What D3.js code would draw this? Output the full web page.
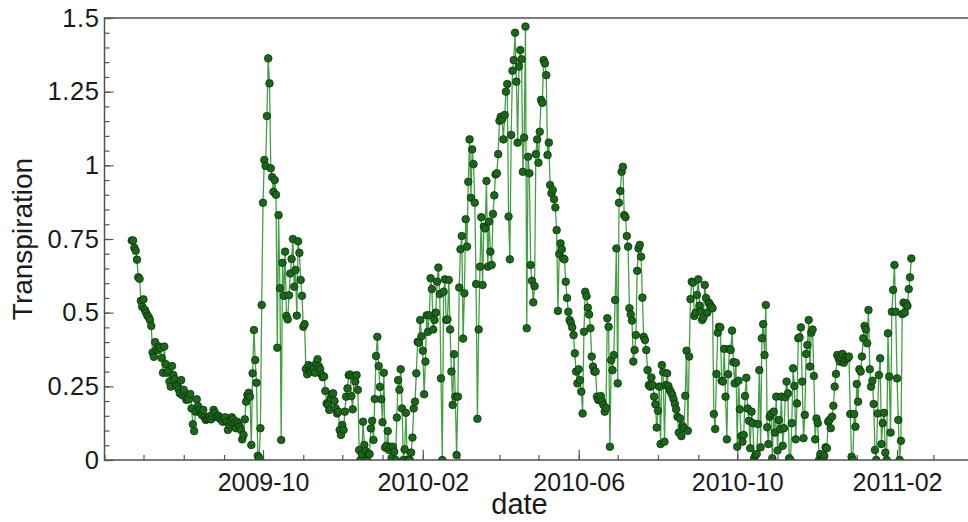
<!DOCTYPE html>
<html>
<head>
<meta charset="utf-8">
<script src="https://cdnjs.cloudflare.com/ajax/libs/d3/7.8.5/d3.min.js"></script>
<style>
body { margin: 0; background: #fff; }
svg { display: block; }
text { font-family: "Liberation Sans", Arial, sans-serif; fill: #1a1a1a; }
</style>
</head>
<body>
<svg id="chart"></svg>
<script>
// daily transpiration series, first value on startDate
var startDate = "2009-06-22";
var transpiration = [
	.745,.745,.72,.71,.68,.62,.615,.54,.52,.545,.51,.50,.49,.485,.475,.455,.365,.35,.40,.375,
	.373,.385,.38,.346,.296,.385,.326,.296,.303,.266,.249,.319,.288,.274,.254,.25,.24,.226,.271,.22,
	.238,.215,.204,.21,.206,.224,.175,.121,.098,.164,.206,.183,.17,.16,.153,.17,.145,.136,.14,.141,
	.149,.138,.15,.17,.16,.147,.145,.149,.141,.136,.13,.14,.145,.13,.102,.119,.13,.145,.138,.125,
	.108,.13,.122,.113,.102,.07,.085,.138,.198,.22,.228,.215,.051,.294,.441,.339,.262,.014,.007,.108,
	.526,.873,1.018,.998,1.167,1.363,1.278,.99,.96,.91,.95,.90,.381,.831,.583,.068,.669,.557,.707,.489,
	.477,.559,.633,.682,.75,.588,.645,.49,.742,.703,.611,.557,.452,.461,.309,.291,.322,.305,.30,.317,
	.31,.296,.328,.342,.318,.308,.29,.281,.283,.234,.192,.187,.17,.209,.224,.226,.2,.175,.158,.164,
	.102,.085,.119,.102,.164,.215,.243,.288,.29,.217,.172,.283,.266,.288,.238,.034,0,.02,.13,.051,
	.03,0,.02,.02,.107,.133,.068,.207,.353,.418,.319,.248,.206,.128,.296,.042,.048,.098,.034,.045,
	.007,.045,.028,0,.144,.271,.238,.308,.175,0,.036,.16,0,0,0,.025,.076,.175,.198,.294,
	.401,.398,.475,.42,.371,.223,.334,.491,.435,.491,.617,.58,.443,.475,.50,.605,.653,.563,.277,0,
	.571,.613,.475,.477,.611,.443,.3,.187,.359,.215,.017,.215,.585,.715,.76,.412,.566,.817,.724,.944,
	1.088,.89,1.054,1.004,.873,.597,.14,.443,.656,.824,.594,.792,.786,.947,.656,.809,.707,.662,.835,.898,
	.969,.973,1.038,1.151,1.165,1.156,1.088,1.171,1.25,1.276,.826,.681,1.103,1.321,1.357,1.45,1.284,1.077,1.335,1.391,
	1.36,.978,1.094,1.471,.447,1.029,.973,.662,.608,.535,.59,1.038,1.088,1.009,1.114,1.222,1.212,1.357,1.346,1.306,
	1.035,1.077,.933,.905,.916,.885,.857,.78,.506,.699,.735,.715,.684,.681,.605,.55,.503,.475,.466,.45,
	.424,.362,.30,.26,.308,.271,.232,.158,.435,.571,.556,.517,.494,.447,.351,.317,.30,.30,.215,.204,
	.206,.217,.198,.187,.164,.177,.481,.452,.045,.339,.305,.356,.543,.718,.26,.873,.913,.978,.995,.831,
	.824,.76,.724,.515,.494,.473,.334,.373,.424,.642,.718,.73,.69,.551,.418,.407,.373,.305,.254,.249,
	.28,.254,.215,.189,.11,.167,.249,.054,.322,.298,.062,.254,.294,.251,.238,.23,.221,.206,.19,.172,
	.147,.093,.141,.081,.115,.108,.218,.371,.099,.351,.546,.605,.602,.489,.50,.56,.613,.524,.503,.475,
	.484,.594,.55,.50,.534,.529,.52,.515,.156,.105,.292,.432,.452,.45,.269,.266,.377,.215,.07,.291,
	.377,.373,.439,.332,.26,.33,.045,.269,.172,.081,.062,.085,.217,.279,.175,.133,.04,.164,.125,.006,
	.017,.02,.122,.305,.043,.413,.461,.356,.526,.111,.054,.147,.156,.006,.164,.093,.215,.032,.136,.104,
	.215,.048,.108,.213,.266,.226,.006,0,.125,.311,.251,.07,.192,.413,.416,.45,.266,.074,.153,.36,
	.39,.475,.317,.432,.443,.285,.07,.141,.125,0,.02,0,.002,.014,.043,.04,.13,.136,.108,.147,
	.184,.249,.292,.356,.345,.334,.348,.36,.33,.342,.35,.345,.351,.156,.011,0,.156,.113,.258,.198,.308,
	.30,.351,.413,.455,.443,.396,.509,.308,.249,.269,.19,.034,0,.158,.288,.345,.054,.125,.16,.025,
	0,.43,.283,.093,.503,.577,.662,.503,.277,.136,0,.065,.495,.534,.50,.532,.523,.58,.62,.684
];

var xDomain = ["2009-06-01", "2011-04-01"];
var xMajorTicks = ["2009-10-01", "2010-02-01", "2010-06-01", "2010-10-01", "2011-02-01"];
var xTickLabels = ["2009-10", "2010-02", "2010-06", "2010-10", "2011-02"];
var yDomain = [0, 1.5];
var yMajorTicks = [0, 0.25, 0.5, 0.75, 1, 1.25, 1.5];
var yTickLabels = ["0", "0.25", "0.5", "0.75", "1", "1.25", "1.5"];
var xTitle = "date";
var yTitle = "Transpiration";

var width = 968;
var height = 522;
var margin = { top: 18, left: 104.5, bottom: 62 };
var chart_height = height - margin.top - margin.bottom;
var parseDate = d3.utcParse("%Y-%m-%d");

var xScale = d3.scaleUtc()
	.domain(xDomain.map(parseDate))
	.range([0, 869.2]);
var yScale = d3.scaleLinear().domain(yDomain).range([chart_height, 0]);

var t0 = parseDate(startDate);
var data = transpiration.map(function(v, i) {
	return { date: d3.utcDay.offset(t0, i), value: v };
});

var svg = d3.select("#chart").attr("width", width).attr("height", height);
var g = svg.append("g").attr("transform", "translate(" + margin.left + "," + margin.top + ")");

g.append("clipPath").attr("id", "plot_clip")
	.append("rect")
	.attr("x", 0).attr("y", 0)
	.attr("width", xScale.range()[1]).attr("height", chart_height);

// minor ticks, no labels
var xMinor = d3.axisBottom(xScale)
	.ticks(d3.utcMonth.every(1))
	.tickSize(-5)
	.tickFormat("");
var yMinor = d3.axisLeft(yScale)
	.tickValues(d3.range(0, 1.5001, 0.05))
	.tickSize(-5)
	.tickFormat("");

var xAxis = d3.axisBottom(xScale)
	.tickValues(xMajorTicks.map(parseDate))
	.tickSize(-10)
	.tickPadding(13)
	.tickFormat(function(d, i) { return xTickLabels[i]; });
var yAxis = d3.axisLeft(yScale)
	.tickValues(yMajorTicks)
	.tickSize(-9)
	.tickPadding(5)
	.tickFormat(function(d, i) { return yTickLabels[i]; });

g.append("g").attr("class", "x minor").attr("transform", "translate(0," + chart_height + ")").call(xMinor);
g.append("g").attr("class", "y minor").call(yMinor);
g.append("g").attr("class", "x axis").attr("transform", "translate(0," + chart_height + ")").call(xAxis);
g.append("g").attr("class", "y axis").call(yAxis);

g.selectAll(".domain").remove();
g.selectAll(".tick line").attr("stroke", "#555").attr("stroke-width", 1.2);
g.selectAll(".x.axis .tick text").style("font-size", "25px").attr("fill", "#111");
g.selectAll(".y.axis .tick text").style("font-size", "25.5px").style("letter-spacing", "0.6px").attr("fill", "#111");

// frame
g.append("rect")
	.attr("x", 0).attr("y", 0)
	.attr("width", xScale.range()[1]).attr("height", chart_height)
	.attr("fill", "none")
	.attr("stroke", "#505050")
	.attr("stroke-width", 1.5);

var line = d3.line()
	.x(function(d) { return xScale(d.date); })
	.y(function(d) { return yScale(d.value); });

var plot = g.append("g").attr("clip-path", "url(#plot_clip)");

plot.append("path")
	.datum(data)
	.attr("fill", "none")
	.attr("stroke", "#45a045")
	.attr("stroke-width", 1.3)
	.attr("d", line);

plot.selectAll("circle")
	.data(data)
	.enter().append("circle")
	.attr("cx", function(d) { return xScale(d.date); })
	.attr("cy", function(d) { return yScale(d.value); })
	.attr("r", 3.8)
	.attr("fill", "#1c661c")
	.attr("stroke", "#0b330b")
	.attr("stroke-width", 0.8);

svg.append("text")
	.attr("x", margin.left + 415)
	.attr("y", 514)
	.attr("text-anchor", "middle")
	.style("font-size", "29px")
	.text(xTitle);

svg.append("text")
	.attr("transform", "translate(32," + (margin.top + chart_height / 2) + ") rotate(-90)")
	.attr("text-anchor", "middle")
	.style("font-size", "28px")
	.text(yTitle);
</script>
</body>
</html>
